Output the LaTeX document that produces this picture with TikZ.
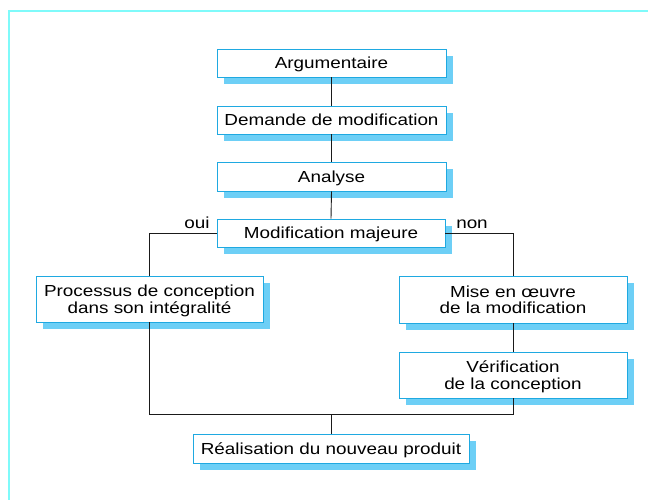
\documentclass[tikz,border=0pt]{standalone}
\usepackage{fontspec}
\setmainfont{Liberation Sans}[FakeStretch=1.18]
\usetikzlibrary{shadows}
\definecolor{boxline}{HTML}{1FA9E1}
\definecolor{shadowblue}{HTML}{6DCFF6}
\definecolor{framecyan}{HTML}{7FFAFA}
\definecolor{linegray}{HTML}{1A1A1A}
\tikzset{
  procbox/.style={draw=boxline, line width=0.9pt, fill=white, rectangle,
    inner sep=0pt, align=center, font=\fontsize{16}{16.6}\selectfont,
    text height=11.7pt, text depth=0pt,
    drop shadow={shadow xshift=7pt, shadow yshift=-7pt, fill=shadowblue, opacity=1}},
  twoline/.style={text height=28.3pt, text depth=0pt},
  conn/.style={draw=linegray, line width=0.9pt},
  lbl/.style={font=\fontsize{16}{16.6}\selectfont, inner sep=0pt, anchor=base}
}
\begin{document}
\begin{tikzpicture}[x=1pt,y=-1pt]
\useasboundingbox (0,0) rectangle (648,500);
\draw[framecyan, line width=1.6pt] (648,11) -- (9,11) -- (9,500);

\node[procbox, minimum width=229pt, minimum height=28pt] (arg) at (331.5,63) {Argumentaire};
\node[procbox, minimum width=229pt, minimum height=28pt] (dem) at (331.5,120) {Demande de modification};
\node[procbox, minimum width=229pt, minimum height=29pt] (ana) at (331.5,176.5) {Analyse};
\node[procbox, minimum width=228pt, minimum height=28pt] (maj) at (331,233) {Modification majeure};
\node[procbox, twoline, minimum width=227pt, minimum height=46pt] (proc) at (149.5,299) {Processus de conception\\dans son intégralité};
\node[procbox, twoline, minimum width=228pt, minimum height=47pt] (mise) at (513,299.5) {Mise en œuvre\\de la modification};
\node[procbox, twoline, minimum width=228pt, minimum height=46pt] (verif) at (513,375) {Vérification\\de la conception};
\node[procbox, minimum width=276pt, minimum height=29pt] (real) at (331,448.5) {Réalisation du nouveau produit};

\node[lbl] (oui) at (197,228) {oui};
\node[lbl] (non) at (472,228) {non};

\coordinate (jl) at (149.5,414);
\coordinate (jr) at (513,414);

\draw[conn] (arg.south) -- (dem.north);
\draw[conn] (dem.south) -- (ana.north);
\draw[conn] (ana.south) -- (maj.north);
\draw[conn] (maj.west) -| (proc.north);
\draw[conn] (maj.east) -| (mise.north);
\draw[conn] (mise.south) -- (verif.north);
\draw[conn] (proc.south) -- (jl) -- (jr) -- (verif.south);
\draw[conn] (real.north) -- (real.north |- jl);
\end{tikzpicture}
\end{document}
